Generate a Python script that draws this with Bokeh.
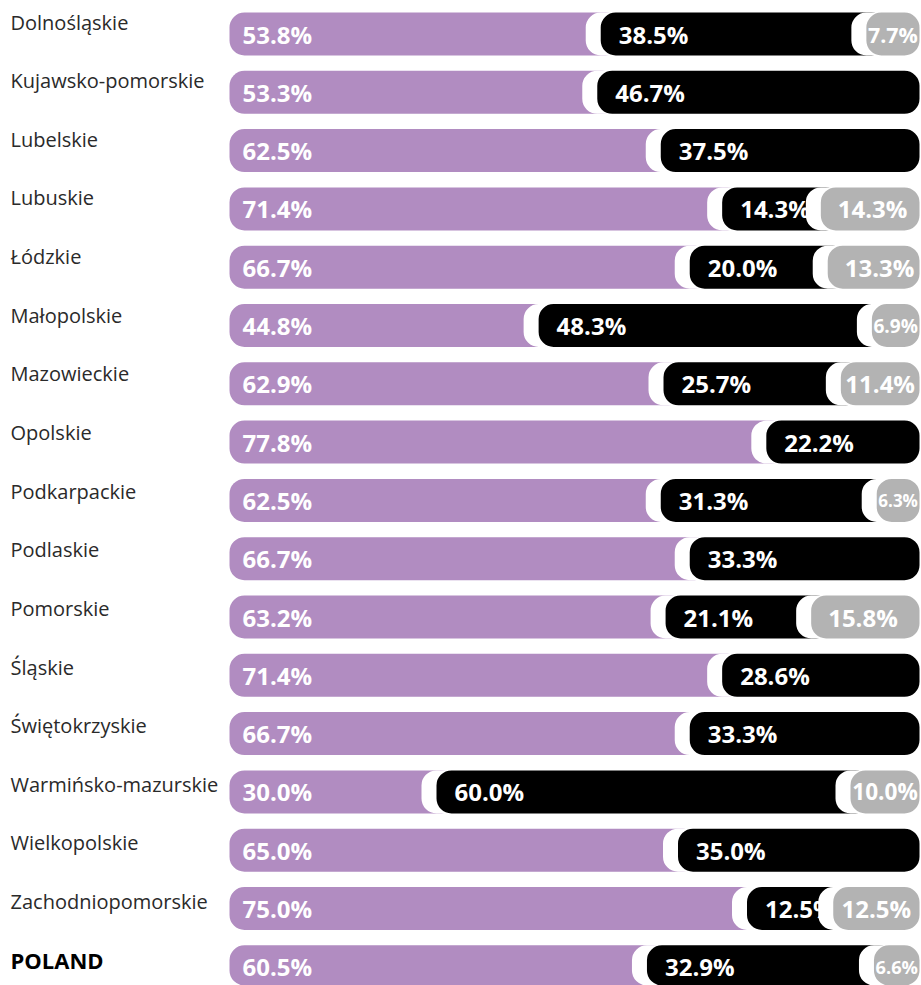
from bokeh.plotting import figure
from bokeh.models import ColumnDataSource, Range1d
from bokeh.core.properties import value
from bokeh.embed import file_html
from bokeh.resources import INLINE

# ---------------- data ----------------
regions = ["Dolnośląskie", "Kujawsko-pomorskie", "Lubelskie", "Lubuskie", "Łódzkie",
           "Małopolskie", "Mazowieckie", "Opolskie", "Podkarpackie", "Podlaskie",
           "Pomorskie", "Śląskie", "Świętokrzyskie", "Warmińsko-mazurskie",
           "Wielkopolskie", "Zachodniopomorskie", "POLAND"]
share_purple = [53.8, 53.3, 62.5, 71.4, 66.7, 44.8, 62.9, 77.8, 62.5, 66.7,
                63.2, 71.4, 66.7, 30.0, 65.0, 75.0, 60.5]
share_black = [38.5, 46.7, 37.5, 14.3, 20.0, 48.3, 25.7, 22.2, 31.3, 33.3,
               21.1, 28.6, 33.3, 60.0, 35.0, 12.5, 32.9]
share_grey = [7.7, 0.0, 0.0, 14.3, 13.3, 6.9, 11.4, 0.0, 6.3, 0.0,
              15.8, 0.0, 0.0, 10.0, 0.0, 12.5, 6.6]

# ---------------- layout / style ----------------
W, H = 921, 985
BAR_LEFT_PX = 229
BAR_W_PX = 690
PITCH = 58.3
ROW0_CENTER = 33.5
BAR_H_PX = 43
RADIUS = 15
HALO_PX = 15
UNDER_PX = 20
LABEL_BASE0 = 21.5      # baseline of the first region label (px)
LABEL_PITCH = 58.64
VAL_FS = 24

PURPLE = "#b18cc1"
BLACK = "#000000"
GREY = "#b3b3b3"
FONT = value("Open Sans")

ux = 100.0 / BAR_W_PX
uy = 1.0 / PITCH
x0 = -BAR_LEFT_PX * ux
x1 = x0 + W * ux
y_top = -ROW0_CENTER * uy
y_bot = y_top + H * uy
bar_h = BAR_H_PX * uy

p = figure(width=W, height=H, x_range=Range1d(x0, x1), y_range=Range1d(y_bot, y_top),
           output_backend="svg", toolbar_location=None, min_border=0,
           x_axis_location=None, y_axis_location=None, outline_line_color=None,
           background_fill_color="white", border_fill_color="white")
p.grid.visible = False

n = len(regions)
rows = list(range(n))
val_dy = 0 * uy

def fmt(v):
    return f"{v:.1f}%"

def text_em(s):
    # approximate advance width (em) of a bold percentage label
    return 0.585 * sum(ch.isdigit() for ch in s) + 0.29 + 0.88

# ---- purple segment ----
src_p = ColumnDataSource(dict(
    y=rows,
    left=[0.0] * n,
    right=[a + UNDER_PX * ux for a in share_purple],
    lx=[13 * ux] * n,
    ly=[r + val_dy for r in rows],
    lab=[fmt(a) for a in share_purple],
))
p.hbar(y="y", left="left", right="right", height=bar_h, source=src_p,
       fill_color=PURPLE, line_color=None, border_radius=RADIUS)
p.text(x="lx", y="ly", text="lab", source=src_p, text_font=FONT, text_font_size=f"{VAL_FS}px",
       text_font_style="bold", text_color="white", text_baseline="middle", text_align="left")

# ---- black segment ----
b_left = list(share_purple)
b_right = [(a + b + UNDER_PX * ux) if c > 0 else 100.0
           for a, b, c in zip(share_purple, share_black, share_grey)]
src_b = ColumnDataSource(dict(
    y=rows,
    left=b_left,
    halo=[l - HALO_PX * ux for l in b_left],
    right=b_right,
    lx=[l + 18 * ux for l in b_left],
    ly=[r + val_dy for r in rows],
    lab=[fmt(b) for b in share_black],
))
p.hbar(y="y", left="halo", right="right", height=bar_h, source=src_b,
       fill_color="white", line_color=None, border_radius=RADIUS)
p.hbar(y="y", left="left", right="right", height=bar_h, source=src_b,
       fill_color=BLACK, line_color=None, border_radius=RADIUS)
p.text(x="lx", y="ly", text="lab", source=src_b, text_font=FONT, text_font_size=f"{VAL_FS}px",
       text_font_style="bold", text_color="white", text_baseline="middle", text_align="left")

# ---- grey segment ----
g_rows = [i for i in rows if share_grey[i] > 0]
g_left = [share_purple[i] + share_black[i] for i in g_rows]
g_lab = [fmt(share_grey[i]) for i in g_rows]
src_g = ColumnDataSource(dict(
    y=g_rows,
    left=g_left,
    halo=[l - HALO_PX * ux for l in g_left],
    right=[100.0] * len(g_rows),
))
p.hbar(y="y", left="halo", right="right", height=bar_h, source=src_g,
       fill_color="white", line_color=None, border_radius=RADIUS)
p.hbar(y="y", left="left", right="right", height=bar_h, source=src_g,
       fill_color=GREY, line_color=None, border_radius=RADIUS)

wide, narrow = [], []
for k in range(len(g_rows)):
    w_px = (100.0 - g_left[k]) / ux
    if w_px >= 17 + text_em(g_lab[k]) * VAL_FS + 4:
        wide.append(k)
    else:
        narrow.append(k)

src_gw = ColumnDataSource(dict(
    x=[g_left[k] + 17 * ux for k in wide],
    y=[g_rows[k] + val_dy for k in wide],
    lab=[g_lab[k] for k in wide],
))
p.text(x="x", y="y", text="lab", source=src_gw, text_font=FONT, text_font_size=f"{VAL_FS}px",
       text_font_style="bold", text_color="white", text_baseline="middle", text_align="left")

# narrow grey segments: centre the label and shrink it to fit
for k in narrow:
    w_px = (100.0 - g_left[k]) / ux
    fs = min(VAL_FS, (w_px - 3) / text_em(g_lab[k]))
    s = ColumnDataSource(dict(x=[(g_left[k] + 100.0) / 2], y=[g_rows[k] + val_dy], lab=[g_lab[k]]))
    p.text(x="x", y="y", text="lab", source=s, text_font=FONT, text_font_size=f"{fs:.1f}px",
           text_font_style="bold", text_color="white", text_baseline="middle", text_align="center")

# ---- region labels ----
lab_x = x0 + 10 * ux
lab_y = [(LABEL_BASE0 + i * LABEL_PITCH - ROW0_CENTER) * uy for i in rows]
src_r = ColumnDataSource(dict(x=[lab_x] * (n - 1), y=lab_y[:-1], lab=regions[:-1]))
p.text(x="x", y="y", text="lab", source=src_r, text_font=FONT, text_font_size="20px",
       text_color="#2a2a2a", text_baseline="alphabetic", text_align="left")
src_pl = ColumnDataSource(dict(x=[lab_x], y=[lab_y[-1]], lab=[regions[-1]]))
p.text(x="x", y="y", text="lab", source=src_pl, text_font=FONT, text_font_size="22px",
       text_font_style="bold", text_color="#000000", text_baseline="alphabetic", text_align="left")

open("out.html", "w").write(file_html(p, INLINE))
